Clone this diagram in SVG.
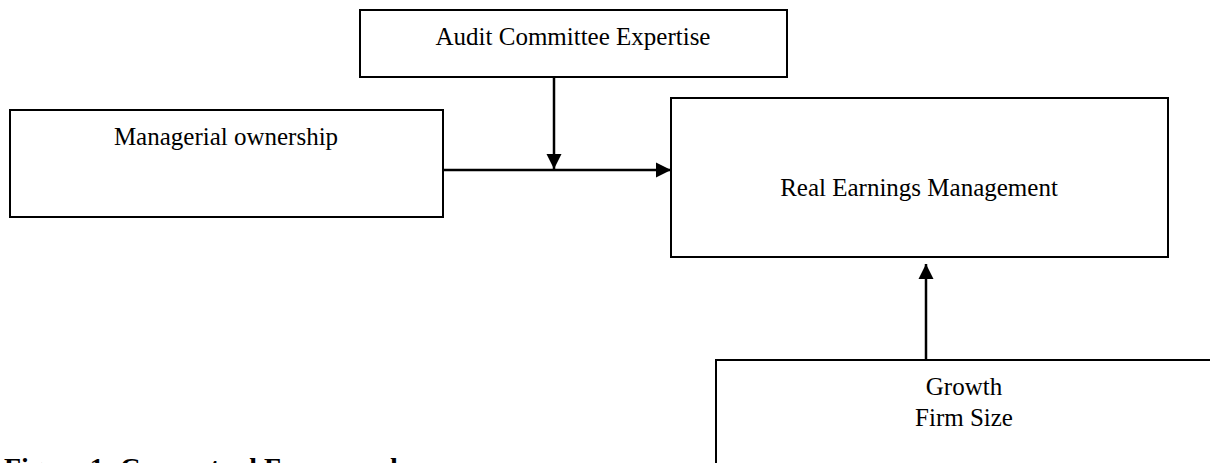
<svg xmlns="http://www.w3.org/2000/svg" width="1210" height="463" viewBox="0 0 1210 463">
<style>
.box{fill:#fff;stroke:#000;stroke-width:2}
.t{font-family:"Liberation Serif","Times New Roman",serif;font-size:25px;fill:#000;text-anchor:middle}
.c{stroke:#000;stroke-width:2.5;fill:none}
.cap{font-family:"Liberation Serif","Times New Roman",serif;font-size:28px;font-weight:bold;fill:#000}
</style>
<defs>
<marker id="ah" markerUnits="userSpaceOnUse" markerWidth="16" markerHeight="16" refX="15" refY="8" orient="auto">
<path d="M0,0.5 L15,8 L0,15.5 Z" fill="#000"/>
</marker>
</defs>
<rect width="1210" height="463" fill="#fff"/>
<g id="audit">
<rect class="box" x="360" y="10" width="427" height="67"/>
<text class="t" x="573" y="45">Audit Committee Expertise</text>
</g>
<g id="managerial">
<rect class="box" x="10" y="110" width="433" height="107"/>
<text class="t" x="226" y="145">Managerial ownership</text>
</g>
<g id="rem">
<rect class="box" x="671" y="98" width="497" height="159"/>
<text class="t" x="919" y="196">Real Earnings Management</text>
</g>
<g id="controls">
<rect class="box" x="716" y="360" width="497" height="130"/>
<text class="t" x="964" y="395">Growth</text>
<text class="t" x="964" y="426">Firm Size</text>
</g>
<g id="connectors">
<line class="c" x1="443" y1="170" x2="671" y2="170" marker-end="url(#ah)"/>
<line class="c" x1="554" y1="77" x2="554" y2="169" marker-end="url(#ah)"/>
<line class="c" x1="926" y1="360" x2="926" y2="264" marker-end="url(#ah)"/>
</g>
<text class="cap" x="4" y="477">Figure 1: Conceptual Framework</text>
</svg>
